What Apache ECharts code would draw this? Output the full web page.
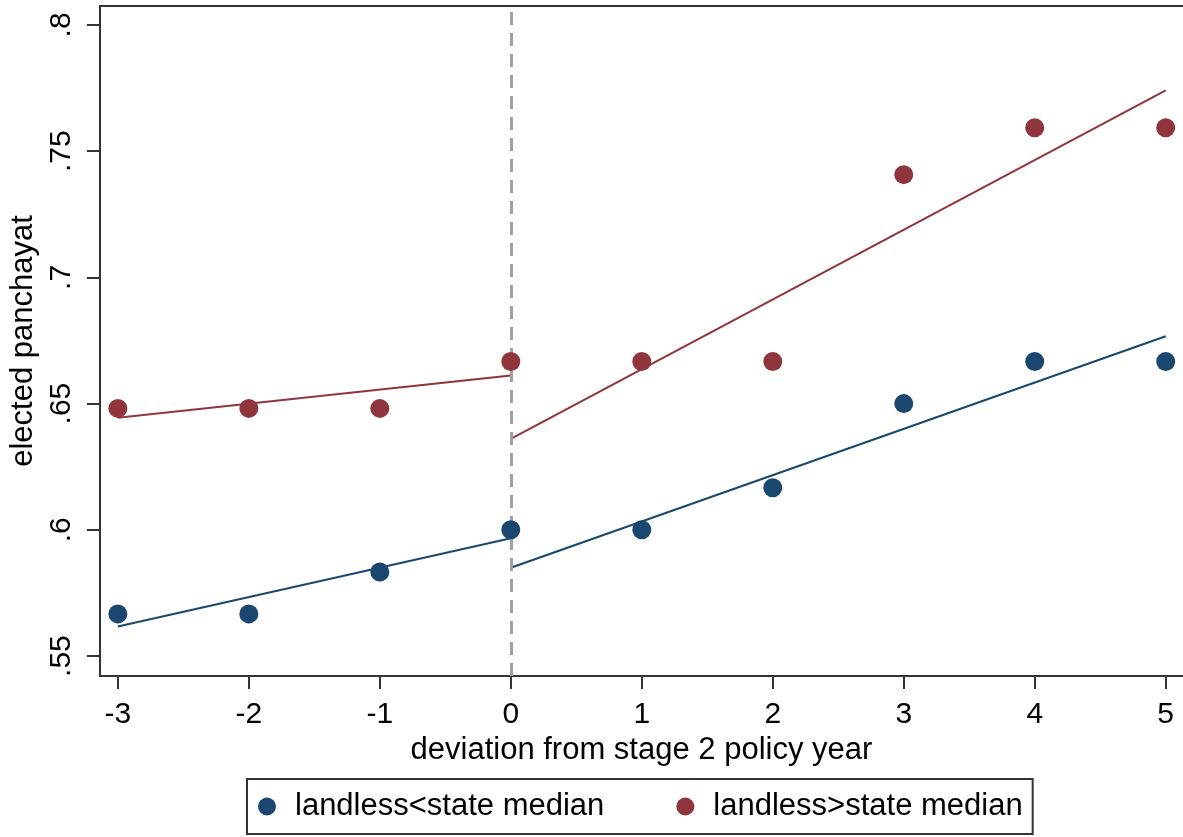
<!DOCTYPE html>
<html>
<head>
<meta charset="utf-8">
<script src="https://cdn.jsdelivr.net/npm/echarts@6/dist/echarts.min.js"></script>
<style>html,body{margin:0;padding:0;background:#fff}#c{width:1183px;height:837px}</style>
</head>
<body>
<div id="c"></div>
<script>
var xTicks = [-3, -2, -1, 0, 1, 2, 3, 4, 5];
var yTicks = [0.55, 0.6, 0.65, 0.7, 0.75, 0.8];
var years = [-3, -2, -1, 0, 1, 2, 3, 4, 5];
var lowLandless = [0.5667, 0.5667, 0.5833, 0.6, 0.6, 0.6167, 0.65, 0.6667, 0.6667];
var highLandless = [0.6481, 0.6481, 0.6481, 0.6667, 0.6667, 0.6667, 0.7407, 0.7593, 0.7593];
var lowFitPre = [[-3, 0.5617], [0, 0.5967]];
var lowFitPost = [[0, 0.5850], [5, 0.6767]];
var highFitPre = [[-3, 0.6444], [0, 0.6611]];
var highFitPost = [[0, 0.6360], [5, 0.7741]];
var cutoff = 0;
var seriesNames = ['landless<state median', 'landless>state median'];

var BLUE = '#1a476f', RED = '#90353b', AX = '#333333';
var FONT = "'Liberation Sans', Arial, sans-serif";
function pairs(xs, ys) { return xs.map(function (x, i) { return [x, ys[i]]; }); }

var chart = echarts.init(document.getElementById('c'), null, {renderer: 'canvas'});
chart.setOption({
  animation: false,
  backgroundColor: '#fff',
  grid: {left: 97, top: 6, right: 0, bottom: 161, containLabel: false},
  xAxis: [{
    type: 'value', min: -3.137, max: 5.132, position: 'bottom',
    name: 'deviation from stage 2 policy year', nameLocation: 'middle', nameGap: 52,
    nameTextStyle: {fontFamily: FONT, fontSize: 31, color: '#000'},
    axisLine: {show: true, onZero: false, lineStyle: {color: AX, width: 2}},
    axisTick: {show: true, length: 13, lineStyle: {color: AX, width: 2}, customValues: xTicks},
    axisLabel: {fontFamily: FONT, fontSize: 30, color: '#000', margin: 24, customValues: xTicks,
      formatter: function (v) { return String(v); }},
    splitLine: {show: false}
  }, {
    type: 'value', min: -3.137, max: 5.132, position: 'top',
    axisLine: {show: true, lineStyle: {color: AX, width: 2}},
    axisTick: {show: false}, axisLabel: {show: false}, splitLine: {show: false}
  }],
  yAxis: {
    type: 'value', min: 0.5421, max: 0.8075,
    name: 'elected panchayat', nameLocation: 'middle', nameGap: 56, nameRotate: 90,
    nameTextStyle: {fontFamily: FONT, fontSize: 31, color: '#000'},
    axisLine: {show: true, onZero: false, lineStyle: {color: AX, width: 2}},
    axisTick: {show: true, length: 13, lineStyle: {color: AX, width: 2}, customValues: yTicks},
    axisLabel: {fontFamily: FONT, fontSize: 30, color: '#000', margin: 23, rotate: 90, customValues: yTicks,
      formatter: function (v) { return String(+v.toFixed(2)).replace(/^0\./, '.'); }},
    splitLine: {show: false}
  },
  legend: {
    data: seriesNames,
    left: 247, top: 779, orient: 'horizontal',
    padding: [12, 10, 12, 11], itemGap: 72,
    itemWidth: 18, itemHeight: 18, icon: 'circle',
    borderColor: AX, borderWidth: 2, borderRadius: 0,
    textStyle: {fontFamily: FONT, fontSize: 31, color: '#000', padding: [0, 0, 0, 14]}
  },
  series: [
    {name: seriesNames[0], type: 'scatter', data: pairs(years, lowLandless), symbolSize: 19,
     itemStyle: {color: BLUE, opacity: 1}, z: 5,
     markLine: {silent: true, symbol: ['none', 'none'], label: {show: false},
       lineStyle: {color: '#a0a0a0', width: 3, type: [13, 8]},
       data: [{xAxis: cutoff}]}},
    {name: seriesNames[1], type: 'scatter', data: pairs(years, highLandless), symbolSize: 19,
     itemStyle: {color: RED, opacity: 1}, z: 5},
    {name: 'fit1', type: 'line', data: lowFitPre, symbol: 'none', lineStyle: {color: BLUE, width: 2}, z: 4},
    {name: 'fit2', type: 'line', data: lowFitPost, symbol: 'none', lineStyle: {color: BLUE, width: 2}, z: 4},
    {name: 'fit3', type: 'line', data: highFitPre, symbol: 'none', lineStyle: {color: RED, width: 2}, z: 4},
    {name: 'fit4', type: 'line', data: highFitPost, symbol: 'none', lineStyle: {color: RED, width: 2}, z: 4}
  ]
});
</script>
</body>
</html>
